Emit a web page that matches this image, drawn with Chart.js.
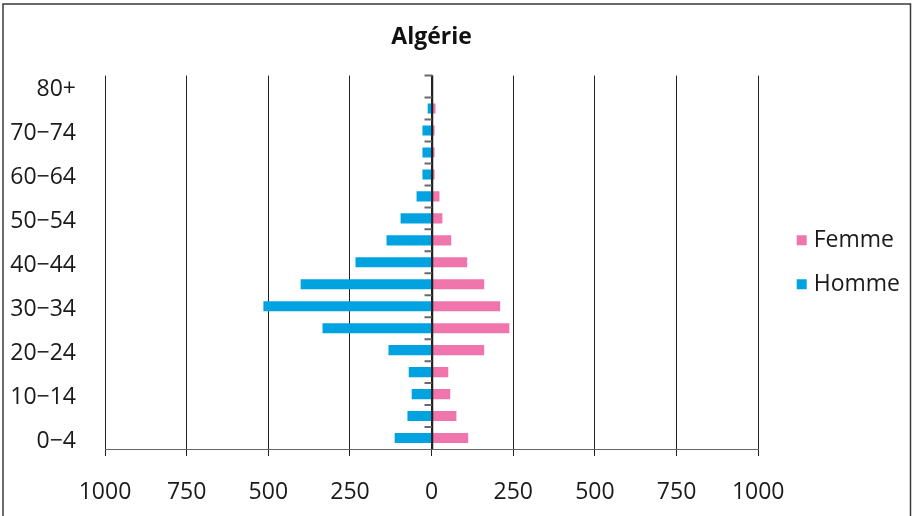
<!DOCTYPE html>
<html>
<head>
<meta charset="utf-8">
<title>Algérie</title>
<script src="https://cdn.jsdelivr.net/npm/chart.js@4/dist/chart.umd.min.js"></script>
<style>
  html, body { margin: 0; padding: 0; background: #fff; }
  canvas { display: block; }
</style>
</head>
<body>
<canvas id="pyramid" width="912" height="516"></canvas>
<script>
// Age groups, bottom to top
const ageGroups = ['0\u22124', '5\u22129', '10\u221214', '15\u221219', '20\u221224', '25\u221229',
  '30\u221234', '35\u221239', '40\u221244', '45\u221249', '50\u221254', '55\u221259',
  '60\u221264', '65\u221269', '70\u221274', '75\u221279', '80+'];

// Population per age group
const femme = [112, 76, 57, 51, 161, 238, 210, 161, 109, 60, 33, 24, 9, 9, 9, 12, 0];
const homme = [113, 74, 61, 70, 132, 334, 515, 401, 233, 138, 95, 46, 28, 28, 28, 12, 0];

// Horizontal axis extent and step
const axisLimit = 1000;
const axisStep = 250;

const FONT_FAMILY = "'Open Sans', 'Noto Sans', 'DejaVu Sans', sans-serif";
const TEXT_COLOR = '#1a1a1a';

// Thin frame around the figure (open at the bottom)
const framePlugin = {
  id: 'frame',
  afterDraw(chart) {
    const c = chart.ctx;
    c.save();
    c.strokeStyle = '#3a3a3a';
    c.lineWidth = 1.5;
    c.beginPath();
    c.moveTo(3, chart.height + 2);
    c.lineTo(3, 4);
    c.lineTo(chart.width - 1.5, 4);
    c.lineTo(chart.width - 1.5, chart.height + 2);
    c.stroke();
    c.restore();
  }
};

// Vertical axis at zero with tick marks between age groups
const zeroAxisPlugin = {
  id: 'zeroAxis',
  afterDraw(chart) {
    const xs = chart.scales.x;
    const ys = chart.scales.y;
    const area = chart.chartArea;
    const x0 = Math.round(xs.getPixelForValue(0)) + 0.5;
    const n = ageGroups.length;
    const step = Math.abs(ys.getPixelForValue(1) - ys.getPixelForValue(0));
    const c = chart.ctx;
    c.save();
    c.strokeStyle = '#6a6a6a';
    c.lineWidth = 2;
    c.beginPath();
    for (let i = 0; i < n; i++) {
      const yb = ys.getPixelForValue(i) - step / 2;
      c.moveTo(x0 - 8, yb);
      c.lineTo(x0, yb);
    }
    c.stroke();
    c.strokeStyle = '#222';
    c.lineWidth = 1.5;
    c.beginPath();
    c.moveTo(x0, area.top);
    c.lineTo(x0, area.bottom);
    c.stroke();
    c.restore();
  }
};

new Chart(document.getElementById('pyramid').getContext('2d'), {
  type: 'bar',
  data: {
    labels: ageGroups,
    datasets: [
      { label: 'Femme', data: femme, backgroundColor: '#F075AD' },
      { label: 'Homme', data: homme.map(v => -v), backgroundColor: '#00A3E0' }
    ]
  },
  options: {
    indexAxis: 'y',
    responsive: false,
    animation: false,
    events: [],
    datasets: {
      bar: { categoryPercentage: 1, barPercentage: 0.46, borderWidth: 0 }
    },
    layout: { padding: { left: 0, right: 2, top: 0, bottom: 0 } },
    scales: {
      x: {
        stacked: true,
        min: -axisLimit,
        max: axisLimit,
        z: 1,
        ticks: {
          stepSize: axisStep,
          callback: v => Math.abs(v),
          font: { family: FONT_FAMILY, size: 23 },
          color: TEXT_COLOR,
          padding: 23,
          maxRotation: 0
        },
        grid: { color: '#222', lineWidth: 1, tickLength: 7 },
        border: { color: '#666', width: 1 },
        afterFit: s => { s.height = 67; }
      },
      y: {
        stacked: true,
        reverse: true,
        grid: { display: false },
        border: { display: false },
        ticks: {
          autoSkip: false,
          callback: function (v, i) { return i % 2 === 0 ? this.getLabelForValue(v) : ''; },
          font: { family: FONT_FAMILY, size: 23 },
          color: TEXT_COLOR,
          padding: 21,
          labelOffset: 3
        },
        afterFit: s => { s.width = 105; }
      },
      gap: {
        type: 'category',
        position: 'right',
        grid: { display: false },
        border: { display: false },
        ticks: { display: false },
        afterFit: s => { s.width = 22; }
      }
    },
    plugins: {
      title: {
        display: true,
        text: 'Algérie',
        fullSize: false,
        font: { family: FONT_FAMILY, size: 23, weight: 'bold' },
        color: '#111',
        padding: { top: 24, bottom: 24 }
      },
      legend: {
        position: 'right',
        fullSize: false,
        labels: {
          usePointStyle: true,
          pointStyle: 'rect',
          boxWidth: 1,
          boxHeight: 10,
          padding: 21,
          font: { family: FONT_FAMILY, size: 23 },
          color: TEXT_COLOR
        }
      },
      tooltip: { enabled: false }
    }
  },
  plugins: [framePlugin, zeroAxisPlugin]
});
</script>
</body>
</html>
